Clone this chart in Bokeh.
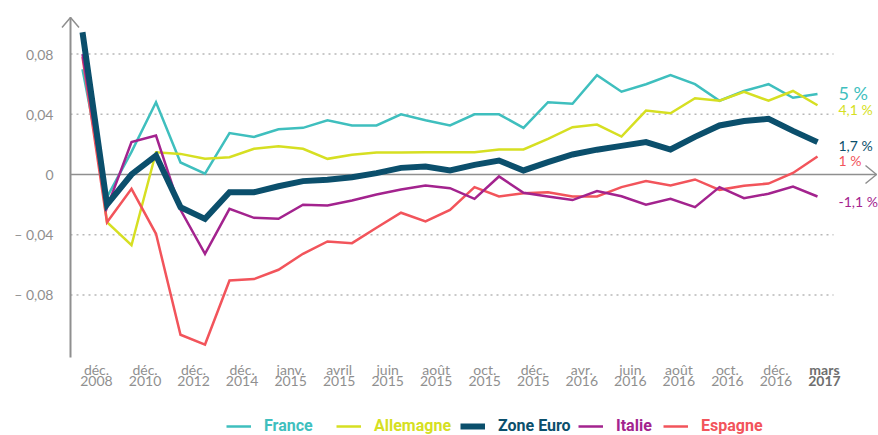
from bokeh.plotting import figure
from bokeh.models import Range1d, FixedTicker, Legend, LegendItem, LinearAxis
from bokeh.core.properties import value
from bokeh.embed import file_html
from bokeh.resources import INLINE

# ---------------- data ----------------
tick_months = ["déc.", "déc.", "déc.", "déc.", "janv.", "avril", "juin", "août", "oct.",
               "déc.", "avr.", "juin", "août", "oct.", "déc."]
tick_years = ["2008", "2010", "2012", "2014", "2015", "2015", "2015", "2015", "2015",
              "2015", "2016", "2016", "2016", "2016", "2016"]
last_month, last_year = "mars", "2017"

france = [0.070, -0.015, 0.015, 0.048, 0.008, 0.0005, 0.0275, 0.025, 0.030, 0.031,
          0.036, 0.0326, 0.0326, 0.040, 0.036, 0.0326, 0.040, 0.040, 0.031, 0.048,
          0.047, 0.066, 0.055, 0.060, 0.066, 0.060, 0.049, 0.0555, 0.060, 0.051, 0.0535]
allemagne = [0.094, -0.0317, -0.047, 0.0148, 0.0137, 0.0104, 0.0115, 0.0171, 0.0188, 0.0171,
             0.0104, 0.0131, 0.0146, 0.0146, 0.0148, 0.0148, 0.0148, 0.0166, 0.0166, 0.0237,
             0.0314, 0.0332, 0.0252, 0.0425, 0.0407, 0.0507, 0.049, 0.055, 0.049, 0.0555, 0.046]
zone_euro = [0.0945, -0.020, 0.000, 0.0126, -0.0217, -0.0295, -0.0118, -0.0118, -0.0078, -0.0044,
             -0.0035, -0.0018, 0.0009, 0.0044, 0.0053, 0.0027, 0.0064, 0.0093, 0.0027, 0.0082,
             0.0133, 0.0165, 0.019, 0.0215, 0.0166, 0.025, 0.0326, 0.0355, 0.037, 0.029, 0.0215]
italie = [0.080, -0.022, 0.0215, 0.0259, -0.0235, -0.0527, -0.0228, -0.0288, -0.0294, -0.0201,
          -0.0206, -0.0173, -0.0133, -0.0100, -0.0073, -0.0091, -0.0162, -0.0013, -0.0122, -0.0146,
          -0.017, -0.011, -0.0145, -0.020, -0.0162, -0.0217, -0.0084, -0.0157, -0.0128, -0.008, -0.0146]
espagne = [0.078, -0.0317, -0.0095, -0.0394, -0.1065, -0.113, -0.0704, -0.0695, -0.0633, -0.0527,
           -0.0445, -0.0456, -0.0354, -0.0254, -0.0312, -0.0235, -0.0084, -0.0146, -0.0124, -0.0118,
           -0.0146, -0.0146, -0.0084, -0.0044, -0.0073, -0.0033, -0.0102, -0.0075, -0.006, 0.001, 0.012]

end_labels = {"France": "5 %", "Allemagne": "4,1 %", "Zone Euro": "1,7 %",
              "Italie": "-1,1 %", "Espagne": "1 %"}

y_ticks = [-0.08, -0.04, 0, 0.04, 0.08]
y_tick_text = ["– 0,08", "– 0,04", "0", "0,04", "0,08"]

# ---------------- layout / style ----------------
W, H = 878, 435
f_left, f_top = 56, 12                                     # frame edges (frame runs to right/bottom edge)
x0_px, dx_px = 82, 24.5                                    # first point, px per period
zero_px, dy_px = 174, 1505                                 # y=0 on page, px per unit
axis_bottom_px = 357

def xv(px):
    return (px - x0_px) / dx_px

def yv(px):
    return (zero_px - px) / dy_px

x = list(range(len(zone_euro)))
GREY = "#8f8f8f"
TICK_FONT = "Lato"

colors = {"France": "#3fbfbe", "Allemagne": "#d6df22", "Zone Euro": "#0b4f6c",
          "Italie": "#a3238e", "Espagne": "#f2545b"}
widths = {"France": 2.5, "Allemagne": 2.5, "Zone Euro": 6, "Italie": 2.5, "Espagne": 2.5}
data = {"France": france, "Allemagne": allemagne, "Zone Euro": zone_euro,
        "Italie": italie, "Espagne": espagne}

p = figure(width=W, height=H, output_backend="svg", toolbar_location=None,
           x_range=Range1d(xv(f_left), xv(W)), y_range=Range1d(yv(H), yv(f_top)),
           min_border_left=f_left, min_border_right=0, min_border_top=f_top, min_border_bottom=0)
p.outline_line_color = None
p.xgrid.visible = False
p.ygrid.visible = False
p.background_fill_color = "white"
p.border_fill_color = "white"

# y axis (labels only)
p.yaxis.ticker = FixedTicker(ticks=y_ticks)
p.yaxis.major_label_overrides = dict(zip(y_ticks, y_tick_text))
p.yaxis.axis_line_color = None
p.yaxis.major_tick_line_color = None
p.yaxis.minor_tick_line_color = None
p.yaxis.major_tick_out = 0
p.yaxis.major_label_standoff = 3
p.yaxis.major_label_text_font = TICK_FONT
p.yaxis.major_label_text_font_size = "14px"
p.yaxis.major_label_text_color = GREY

# x axes: month row and year row, drawn at fixed positions under the plot
first_tick, tick_step = xv(96), 48.53 / dx_px
x_ticks = [round(first_tick + i * tick_step, 3) for i in range(len(tick_months))]
last_tick = round(first_tick + len(tick_months) * tick_step, 3)

def style_x_axis(ax, ticks, labels, row_px, bold=False):
    ax.ticker = FixedTicker(ticks=ticks)
    ax.major_label_overrides = dict(zip(ticks, labels))
    ax.fixed_location = yv(row_px)
    ax.axis_line_color = None
    ax.major_tick_line_color = None
    ax.minor_tick_line_color = None
    ax.major_tick_out = 0
    ax.major_tick_in = 0
    ax.major_label_standoff = 0
    ax.major_label_text_font = TICK_FONT
    ax.major_label_text_font_size = "14px"
    ax.major_label_text_color = "#6e6e6e" if bold else GREY
    ax.major_label_text_font_style = "bold" if bold else "normal"

style_x_axis(p.xaxis[0], x_ticks, tick_months, axis_bottom_px + 3)
for ticks, labels, row, bold in [(x_ticks, tick_years, axis_bottom_px + 18, False),
                                 ([last_tick], [last_month], axis_bottom_px + 3, True),
                                 ([last_tick], [last_year], axis_bottom_px + 18, True)]:
    ax = LinearAxis()
    style_x_axis(ax, ticks, labels, row, bold)
    p.add_layout(ax, "below")

# dotted grid lines
axis_x = xv(70)
grid_ticks = [t for t in y_ticks if t != 0]
p.segment(x0=[axis_x] * len(grid_ticks), y0=grid_ticks, x1=[xv(833)] * len(grid_ticks),
          y1=grid_ticks, line_color="#b8b8b8", line_width=1.5, line_dash="2 4")

# zero line with arrow
tip_x = xv(876)
p.segment(x0=[axis_x], y0=[0], x1=[tip_x], y1=[0], line_color=GREY, line_width=1.5)
p.multi_line(xs=[[tip_x - 11 / dx_px, tip_x, tip_x - 11 / dx_px]],
             ys=[[9 / dy_px, 0, -9 / dy_px]], line_color=GREY, line_width=1.5)
# y axis line with arrow
top_y = yv(17)
p.segment(x0=[axis_x], y0=[yv(axis_bottom_px)], x1=[axis_x], y1=[top_y],
          line_color=GREY, line_width=2)
p.multi_line(xs=[[axis_x - 8.5 / dx_px, axis_x, axis_x + 8.5 / dx_px]],
             ys=[[top_y - 10 / dy_px, top_y, top_y - 10 / dy_px]], line_color=GREY, line_width=1.5)

# series
renderers = {}
for name in ["France", "Allemagne", "Espagne", "Italie", "Zone Euro"]:
    renderers[name] = p.line(x, data[name], line_color=colors[name], line_width=widths[name],
                             line_join="miter")

# end labels
end_style = {"France": ("18px", -1), "Allemagne": ("14px", 4), "Zone Euro": ("14px", 3),
             "Espagne": ("14px", 4), "Italie": ("14px", 5)}
for name, (fs, yoff) in end_style.items():
    p.text(x=[x[-1]], y=[data[name][-1]], text=[end_labels[name]], x_offset=21, y_offset=yoff,
           text_baseline="middle", text_align="left", text_font=value(TICK_FONT),
           text_font_size=fs, text_color=colors[name])

# legend: one per item so each label gets its own colour
legend_x = {"France": 226, "Allemagne": 336, "Zone Euro": 460, "Italie": 578, "Espagne": 663}
for name in ["France", "Allemagne", "Zone Euro", "Italie", "Espagne"]:
    leg = Legend(items=[LegendItem(label=name, renderers=[renderers[name]])],
                 location=(legend_x[name] - f_left, 0),
                 orientation="horizontal", label_text_color=colors[name],
                 label_text_font="Liberation Sans Narrow, Roboto, sans-serif",
                 label_text_font_style="bold", label_text_font_size="16px",
                 glyph_width=25, glyph_height=16, label_height=16, label_standoff=13,
                 padding=0, margin=0, spacing=0, border_line_color=None,
                 background_fill_alpha=0)
    p.add_layout(leg)

open("out.html", "w").write(file_html(p, INLINE))
